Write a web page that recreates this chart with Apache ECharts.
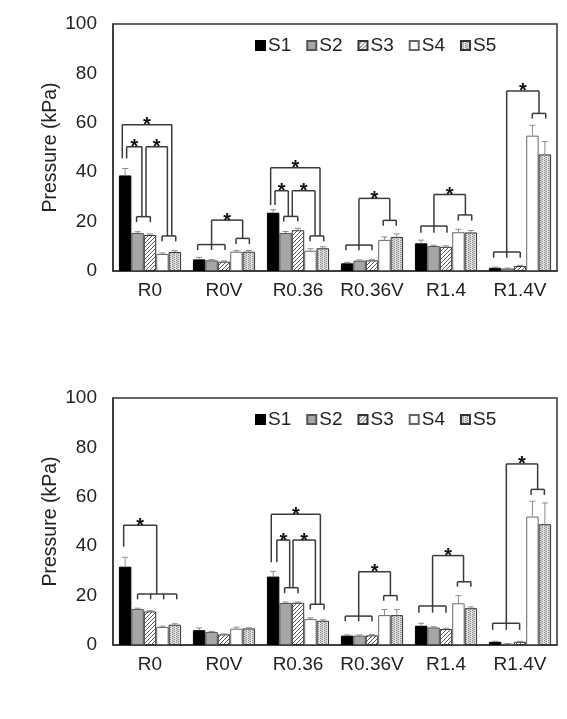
<!DOCTYPE html>
<html>
<head>
<meta charset="utf-8">
<script src="https://cdn.jsdelivr.net/npm/echarts@6/dist/echarts.min.js"></script>
<style>
  html, body { margin: 0; padding: 0; background: #fff; }
  #main { width: 567px; height: 719px; }
</style>
</head>
<body>
<div id="main"></div>
<script>
var categories = ['R0', 'R0V', 'R0.36', 'R0.36V', 'R1.4', 'R1.4V'];
var seriesNames = ['S1', 'S2', 'S3', 'S4', 'S5'];
var yTicks = [0, 20, 40, 60, 80, 100];

// upper panel: mean and error (kPa)
var topMeans = [
    [38.7, 4.7, 23.6, 3.1, 11.2, 1.3],
    [15.4, 4.3, 15.4, 4.2, 10.1, 1.0],
    [14.6, 3.8, 16.5, 4.3, 9.8, 2.0],
    [6.9, 7.8, 8.2, 12.6, 15.7, 54.8],
    [7.7, 7.8, 9.2, 13.8, 15.6, 47.2]
];
var topErrors = [
    [2.8, 0.8, 1.2, 0.4, 1.3, 0.3],
    [0.5, 0.3, 0.6, 0.3, 0.3, 0.2],
    [0.4, 0.3, 0.8, 0.3, 0.4, 0.3],
    [0.4, 0.5, 0.8, 1.2, 1.2, 4.2],
    [0.5, 0.5, 0.6, 1.2, 0.8, 5.2]
];

// lower panel
var bottomMeans = [
    [31.7, 6.0, 27.7, 3.8, 7.8, 1.3],
    [14.6, 5.3, 17.0, 3.8, 7.1, 0.5],
    [13.6, 4.3, 17.1, 3.9, 6.5, 1.3],
    [7.3, 6.6, 10.5, 12.1, 16.9, 52.0],
    [8.2, 6.7, 9.8, 12.1, 14.9, 48.9]
];
var bottomErrors = [
    [3.8, 0.9, 2.1, 0.3, 1.0, 0.2],
    [0.3, 0.2, 0.4, 0.3, 0.3, 0.1],
    [0.3, 0.2, 0.3, 0.3, 0.3, 0.2],
    [0.3, 0.6, 0.5, 2.3, 3.1, 6.2],
    [0.4, 0.3, 0.4, 2.3, 0.5, 8.6]
];

// significance brackets: c = category, y = level (kPa),
// legs = [bar slot (0..4), bottom of leg (kPa)], star = draw *
var topBrackets = [
    {c: 0, y: 59.2, legs: [[-0.23, 45.6], [3.75, 14.2]], star: 1},
    {c: 0, y: 50.3, legs: [[0.12, 45.6], [1.35, 22]], star: 1},
    {c: 0, y: 50.3, legs: [[1.68, 22], [3.4, 14.2]], star: 1},
    {c: 0, y: 22, legs: [[0.92, 19.8], [2.03, 19.8]]},
    {c: 0, y: 14.2, legs: [[2.97, 12], [4.07, 12]]},
    {c: 1, y: 20.6, legs: [[1.0, 10.7], [3.5, 13.2]], star: 1},
    {c: 1, y: 10.7, legs: [[-0.12, 8.5], [1.0, 8.5], [2.08, 8.5]]},
    {c: 1, y: 13.2, legs: [[2.97, 10.9], [4.04, 10.9]]},
    {c: 2, y: 41.8, legs: [[-0.2, 26.7], [3.77, 14.2]], star: 1},
    {c: 2, y: 32.5, legs: [[0.15, 26.7], [1.22, 22.1]], star: 1},
    {c: 2, y: 32.5, legs: [[1.54, 22.1], [3.37, 14.2]], star: 1},
    {c: 2, y: 22.1, legs: [[0.85, 20], [1.98, 20]]},
    {c: 2, y: 14.2, legs: [[2.97, 12], [4.07, 12]]},
    {c: 3, y: 29.4, legs: [[0.95, 10.5], [3.43, 20.5]], star: 1},
    {c: 3, y: 10.5, legs: [[-0.1, 8.4], [0.95, 8.4], [2.0, 8.4]]},
    {c: 3, y: 20.5, legs: [[2.9, 18.3], [3.95, 18.3]]},
    {c: 4, y: 31, legs: [[1.03, 18.2], [3.56, 22.7]], star: 1},
    {c: 4, y: 18.2, legs: [[-0.02, 15.5], [1.03, 15.5], [2.08, 15.5]]},
    {c: 4, y: 22.7, legs: [[2.99, 20.4], [4.07, 20.4]]},
    {c: 5, y: 72.9, legs: [[0.93, 7.7], [3.53, 63.8]], star: 1},
    {c: 5, y: 7.7, legs: [[-0.12, 5.4], [0.93, 5.4], [2.02, 5.4]]},
    {c: 5, y: 63.8, legs: [[2.99, 61.7], [4.07, 61.7]]}
];
var bottomBrackets = [
    {c: 0, y: 48.5, legs: [[-0.12, 39.8], [2.54, 20.6]], star: 1},
    {c: 0, y: 20.6, legs: [[1.0, 18.5], [2.05, 18.5], [3.1, 18.5], [4.15, 18.5]]},
    {c: 2, y: 52.9, legs: [[-0.15, 33.5], [3.8, 16.5]], star: 1},
    {c: 2, y: 42.5, legs: [[0.3, 33.5], [1.33, 23.2]], star: 1},
    {c: 2, y: 42.5, legs: [[1.6, 23.2], [3.4, 16.5]], star: 1},
    {c: 2, y: 23.2, legs: [[0.92, 21], [2.0, 21]]},
    {c: 2, y: 16.5, legs: [[2.99, 14.3], [4.1, 14.3]]},
    {c: 3, y: 29.7, legs: [[0.93, 11.7], [3.48, 20]], star: 1},
    {c: 3, y: 11.7, legs: [[-0.15, 9.6], [0.93, 9.6], [2.0, 9.6]]},
    {c: 3, y: 20, legs: [[2.94, 17.9], [4.02, 17.9]]},
    {c: 4, y: 36.2, legs: [[0.92, 15.8], [3.41, 25.6]], star: 1},
    {c: 4, y: 15.8, legs: [[-0.18, 13.1], [0.92, 13.1], [2.0, 13.1]]},
    {c: 4, y: 25.6, legs: [[2.92, 23.6], [4.0, 23.6]]},
    {c: 5, y: 73.3, legs: [[0.9, 8.8], [3.42, 63]], star: 1},
    {c: 5, y: 8.8, legs: [[-0.2, 6.1], [0.9, 6.1], [1.97, 6.1]]},
    {c: 5, y: 63, legs: [[2.89, 60.7], [3.96, 60.7]]}
];

var FONT = '"Liberation Sans", Arial, sans-serif';
var TXT = '#222';
var CAT_GAP = 0.16;

function hatchPattern() {
    var c = document.createElement('canvas');
    c.width = 4; c.height = 4;
    var ctx = c.getContext('2d');
    ctx.fillStyle = '#fff';
    ctx.fillRect(0, 0, 4, 4);
    ctx.strokeStyle = '#5a5a5a';
    ctx.lineWidth = 1;
    ctx.beginPath();
    ctx.moveTo(0, 4); ctx.lineTo(4, 0);
    ctx.moveTo(-1, 1); ctx.lineTo(1, -1);
    ctx.moveTo(3, 5); ctx.lineTo(5, 3);
    ctx.stroke();
    return c;
}
function dotPattern() {
    var c = document.createElement('canvas');
    c.width = 4; c.height = 4;
    var ctx = c.getContext('2d');
    ctx.fillStyle = '#e2e2e2';
    ctx.fillRect(0, 0, 4, 4);
    ctx.fillStyle = '#8a8a8a';
    ctx.fillRect(0, 0, 1, 1);
    ctx.fillRect(2, 1, 1, 1);
    ctx.fillRect(0, 2, 1, 1);
    ctx.fillRect(2, 3, 1, 1);
    ctx.fillStyle = '#c4c4c4';
    ctx.fillRect(1, 0, 1, 4);
    return c;
}

var barStyles = [
    {color: '#000', borderColor: '#000', borderWidth: 1},
    {color: '#a6a6a6', borderColor: '#555', borderWidth: 1},
    {color: {image: hatchPattern(), repeat: 'repeat'}, borderColor: '#333', borderWidth: 1},
    {color: '#fff', borderColor: '#666', borderWidth: 1},
    {color: {image: dotPattern(), repeat: 'repeat'}, borderColor: '#333', borderWidth: 1}
];

function slotX(api, cat, slot) {
    var c = api.coord([cat, 0])[0];
    var band = api.size([1, 0])[0];
    var bw = band * (1 - CAT_GAP) / 5;
    return c + (slot - 2) * bw;
}

function errorSeries(axis, means, errors) {
    var data = [];
    for (var s = 0; s < means.length; s++) {
        for (var i = 0; i < categories.length; i++) {
            data.push([i, means[s][i] + errors[s][i], s, means[s][i]]);
        }
    }
    return {
        type: 'custom',
        xAxisIndex: axis, yAxisIndex: axis,
        z: 5, silent: true,
        data: data,
        renderItem: function (params, api) {
            var x = slotX(api, api.value(0), api.value(2));
            var top = api.coord([api.value(0), api.value(1)])[1];
            var base = api.coord([api.value(0), api.value(3)])[1];
            var st = {stroke: '#8c8c8c', lineWidth: 1};
            return {type: 'group', children: [
                {type: 'line', shape: {x1: x, y1: base, x2: x, y2: top}, style: st},
                {type: 'line', shape: {x1: x - 3, y1: top, x2: x + 3, y2: top}, style: st}
            ]};
        }
    };
}

function bracketSeries(axis, list) {
    var data = [];
    for (var i = 0; i < list.length; i++) {
        data.push([list[i].c, list[i].y, i]);
    }
    return {
        type: 'custom',
        xAxisIndex: axis, yAxisIndex: axis,
        z: 6, silent: true,
        data: data,
        renderItem: function (params, api) {
            var b = list[api.value(2)];
            var yLine = api.coord([b.c, b.y])[1];
            var xs = b.legs.map(function (l) { return slotX(api, b.c, l[0]); });
            var xMin = Math.min.apply(null, xs), xMax = Math.max.apply(null, xs);
            var st = {stroke: '#3a3a3a', lineWidth: 1.5};
            var kids = [{type: 'line', shape: {x1: xMin, y1: yLine, x2: xMax, y2: yLine}, style: st}];
            b.legs.forEach(function (l, k) {
                var yb = api.coord([b.c, l[1]])[1];
                kids.push({type: 'line', shape: {x1: xs[k], y1: yLine, x2: xs[k], y2: yb}, style: st});
            });
            if (b.star) {
                kids.push({type: 'text', style: {
                    text: '*', x: (xMin + xMax) / 2, y: yLine + 1,
                    align: 'center', verticalAlign: 'middle',
                    font: 'bold 20px ' + FONT, fill: '#111'
                }});
            }
            return {type: 'group', children: kids};
        }
    };
}

var myChart = echarts.init(document.getElementById('main'));

var grids = [
    {left: 113, top: 24, width: 444, height: 247},
    {left: 113, top: 398, width: 444, height: 247}
];

var option = {
    animation: false,
    backgroundColor: '#fff',
    textStyle: {fontFamily: FONT},
    legend: [0, 1].map(function (g) {
        return {
            data: seriesNames,
            left: 250,
            top: g == 0 ? 31 : 405,
            icon: 'rect',
            itemWidth: 9, itemHeight: 9,
            itemGap: 15,
            textStyle: {fontSize: 19, color: TXT, fontFamily: FONT, padding: [0, 0, 0, -2]},
            selectedMode: false
        };
    }),
    grid: grids.map(function (g) {
        return {left: g.left, top: g.top, width: g.width, height: g.height,
            show: true, borderColor: '#333', borderWidth: 1.5, backgroundColor: 'transparent'};
    }),
    xAxis: [0, 1].map(function (g) {
        return {
            type: 'category', gridIndex: g, data: categories,
            axisLine: {lineStyle: {color: '#333', width: 1.5}},
            axisTick: {show: false},
            axisLabel: {fontSize: 19, color: TXT, margin: 10, fontFamily: FONT, interval: 0}
        };
    }),
    yAxis: [0, 1].map(function (g) {
        return {
            type: 'value', gridIndex: g, min: yTicks[0], max: yTicks[yTicks.length - 1], interval: 20,
            name: 'Pressure (kPa)', nameLocation: 'middle', nameGap: 52,
            nameMoveOverlap: false,
            nameTextStyle: {fontSize: 19.5, color: TXT, fontFamily: FONT},
            axisLine: {show: true, lineStyle: {color: '#333', width: 1.5}},
            axisTick: {show: false},
            splitLine: {show: false},
            axisLabel: {fontSize: 19, color: TXT, margin: 16, fontFamily: FONT}
        };
    }),
    series: []
};

[[topMeans, topErrors, topBrackets], [bottomMeans, bottomErrors, bottomBrackets]].forEach(function (panel, g) {
    seriesNames.forEach(function (name, s) {
        option.series.push({
            name: name, type: 'bar',
            xAxisIndex: g, yAxisIndex: g,
            data: panel[0][s],
            barGap: '0%', barCategoryGap: (CAT_GAP * 100) + '%',
            itemStyle: barStyles[s],
            silent: true
        });
    });
    option.series.push(errorSeries(g, panel[0], panel[1]));
    option.series.push(bracketSeries(g, panel[2]));
});

myChart.setOption(option);
</script>
</body>
</html>
